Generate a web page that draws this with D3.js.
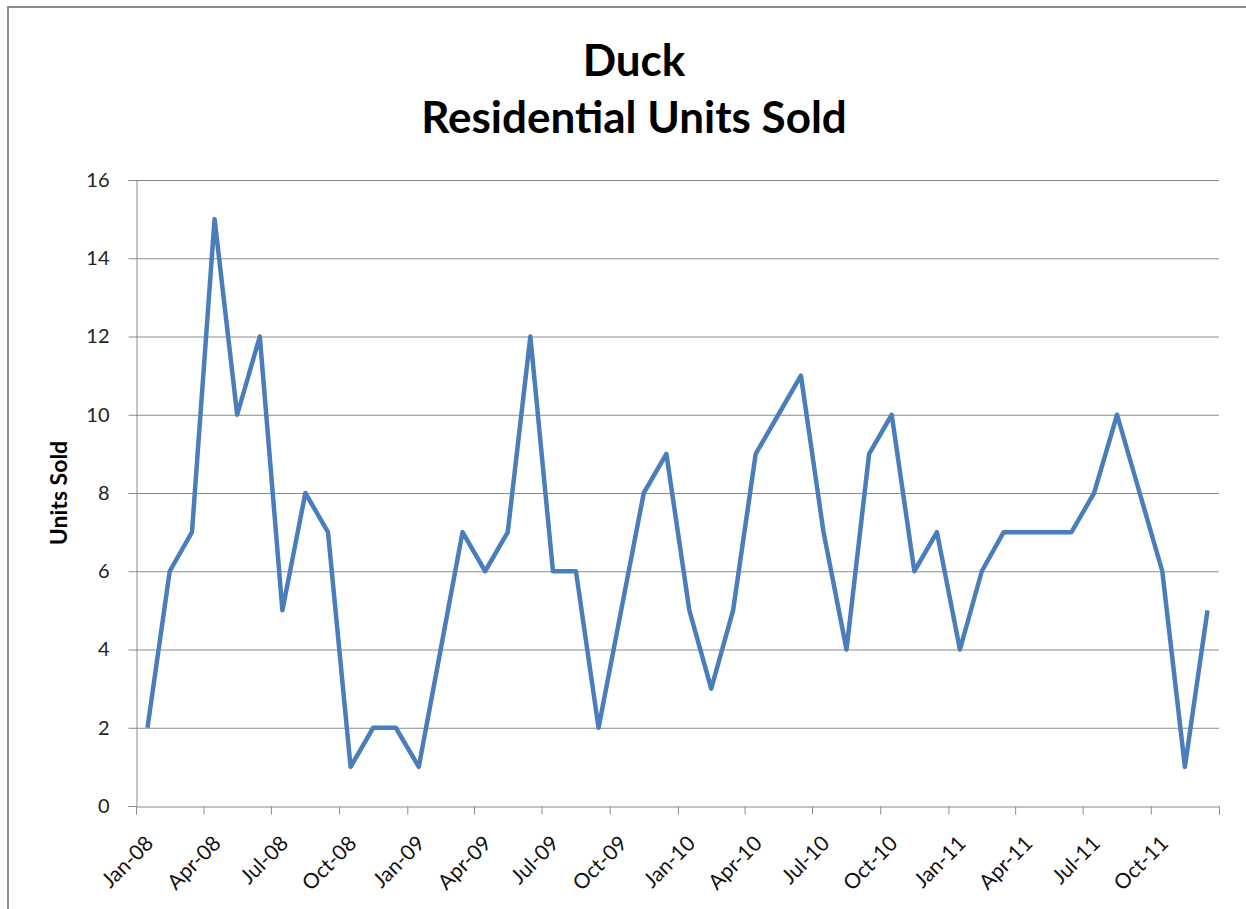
<!DOCTYPE html>
<html>
<head>
<meta charset="utf-8">
<script src="https://cdn.jsdelivr.net/npm/d3@7"></script>
<style>
  body { margin: 0; background: #fff; }
  text { font-family: Lato, "Open Sans", sans-serif; }
</style>
</head>
<body>
<script>
var width = 1246;
var height = 909;

var margin = {
  top: 180,
  left: 136,
  right: 27,
  bottom: 103,
};

// monthly data, Jan-08 .. Dec-11
var months = [
  "2008-01","2008-02","2008-03","2008-04","2008-05","2008-06","2008-07","2008-08","2008-09","2008-10","2008-11","2008-12",
  "2009-01","2009-02","2009-03","2009-04","2009-05","2009-06","2009-07","2009-08","2009-09","2009-10","2009-11","2009-12",
  "2010-01","2010-02","2010-03","2010-04","2010-05","2010-06","2010-07","2010-08","2010-09","2010-10","2010-11","2010-12",
  "2011-01","2011-02","2011-03","2011-04","2011-05","2011-06","2011-07","2011-08","2011-09","2011-10","2011-11","2011-12"
];
var unitsSold = [
  2, 6, 7, 15, 10, 12, 5, 8, 7, 1, 2, 2,
  1, 4, 7, 6, 7, 12, 6, 6, 2, 5, 8, 9,
  5, 3, 5, 9, 10, 11, 7, 4, 9, 10, 6, 7,
  4, 6, 7, 7, 7, 7, 8, 10, 8, 6, 1, 5
];
var yTicks = [0, 2, 4, 6, 8, 10, 12, 14, 16];
var titleLines = ["Duck", "Residential Units Sold"];
var yLabel = "Units Sold";

var parseMonth = d3.timeParse("%Y-%m");
var data = months.map(function(m, i) {
  return {date: parseMonth(m), y: unitsSold[i]};
});

var svg = d3.select("body")
    .append("svg")
    .attr("width", width)
    .attr("height", height);

// chart border (right and bottom run off the picture)
svg.append("rect")
  .attr("x", 8)
  .attr("y", 7)
  .attr("width", 1300)
  .attr("height", 1000)
  .attr("fill", "none")
  .attr("stroke", "#8c8c8c")
  .attr("stroke-width", 2);

var xScale = d3.scaleTime()
  .domain([parseMonth("2008-01"), parseMonth("2012-01")])
  .range([margin.left, width - margin.right]);

var yScale = d3.scaleLinear()
  .domain([0, 16])
  .range([height - margin.bottom, margin.top]);

function midMonth(d) {
  var next = d3.timeMonth.offset(d, 1);
  return (xScale(d) + xScale(next)) / 2;
}

// gridlines
svg.append("g")
  .selectAll("line")
  .data(yTicks.slice(1))
  .enter()
  .append("line")
    .attr("x1", margin.left)
    .attr("x2", width - margin.right)
    .attr("y1", function(d) { return yScale(d) + 0.5; })
    .attr("y2", function(d) { return yScale(d) + 0.5; })
    .attr("stroke", "#8a8a8a")
    .attr("stroke-width", 1);

var fmt = d3.timeFormat("%b-%y");
var xAxis = svg.append("g")
  .attr("transform", "translate(0," + (height - margin.bottom + 0.5) + ")")
  .call(d3.axisBottom(xScale)
    .ticks(d3.timeMonth.every(3))
    .tickSize(8)
    .tickFormat(function(d) {
      return d >= parseMonth("2012-01") ? "" : fmt(d);
    }));

xAxis.select(".domain").attr("stroke", "#8a8a8a");
xAxis.selectAll(".tick line").attr("stroke", "#8a8a8a");
xAxis.selectAll("text")
  .attr("font-size", 21)
  .attr("fill", "#111")
  .attr("text-anchor", "end")
  .attr("dy", "0.35em")
  .attr("transform", "translate(13,33) rotate(-45)")
  .attr("y", 0)
  .attr("x", 0);

var yAxis = svg.append("g")
  .attr("transform", "translate(" + (margin.left + 0.5) + ",0)")
  .call(d3.axisLeft(yScale)
    .tickValues(yTicks)
    .tickSize(8)
    .tickPadding(19));

yAxis.select(".domain").attr("stroke", "#8a8a8a");
yAxis.selectAll(".tick line").attr("stroke", "#8a8a8a");
yAxis.selectAll("text")
  .attr("font-size", 20)
  .attr("fill", "#222");

// line
var line = d3.line()
  .x(function(d) { return midMonth(d.date); })
  .y(function(d) { return yScale(d.y); });

svg.append("path")
  .datum(data)
  .attr("d", line)
  .attr("fill", "none")
  .attr("stroke", "#4a7ebb")
  .attr("stroke-width", 4.5)
  .attr("stroke-linejoin", "round");

// title
svg.append("g")
  .selectAll("text")
  .data(titleLines)
  .enter()
  .append("text")
    .attr("x", 634)
    .attr("y", function(d, i) { return 76 + i * 57; })
    .attr("text-anchor", "middle")
    .attr("font-size", 44)
    .attr("font-weight", "bold")
    .attr("fill", "#000")
    .text(function(d) { return d; });

// y axis label
svg.append("text")
  .attr("transform", "translate(67," + ((margin.top + height - margin.bottom) / 2) + ") rotate(-90)")
  .attr("text-anchor", "middle")
  .attr("font-size", 23)
  .attr("font-weight", "bold")
  .attr("fill", "#000")
  .text(yLabel);
</script>
</body>
</html>
